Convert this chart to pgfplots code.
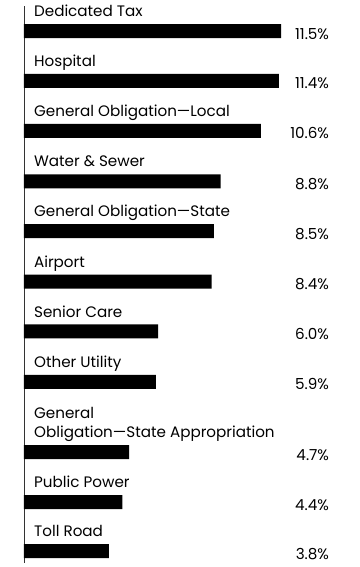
\documentclass[border=0pt]{standalone}
\usepackage{pgfplots}
\pgfplotsset{compat=1.18}
\usepackage{fontspec}
\setmainfont{Poppins}
\begin{document}
\fontsize{15.2}{19}\selectfont
\begin{tikzpicture}[x=1pt,y=1pt]
\path (0,0) rectangle (360,567);
\begin{axis}[at={(24pt,4pt)}, anchor=south west, scale only axis,
  width=336pt, height=558pt, xmin=0, xmax=15, ymin=5, ymax=563,
  y dir=reverse, axis x line=none, axis y line*=left,
  ytick=\empty, xtick=\empty, xbar, bar width=14, bar shift=0pt,
  clip=false, axis line style={line width=0.9pt, black!80},
  every node/.style={font=\fontsize{15.2}{19}\selectfont, inner sep=0pt}]
\addplot[fill=black, draw=none] coordinates {
 (11.5,30) (11.4,80) (10.6,130) (8.8,180.5) (8.5,230.5) (8.4,281)
 (6.0,331) (5.9,381.5) (4.7,452) (4.4,502) (3.8,551)};
\node[anchor=base west] at (axis cs:0.22,15.5) {Dedicated Tax};
\node[anchor=base west] at (axis cs:0.22,65.5) {Hospital};
\node[anchor=base west] at (axis cs:0.22,115.5) {General Obligation—Local};
\node[anchor=base west] at (axis cs:0.22,166) {Water \& Sewer};
\node[anchor=base west] at (axis cs:0.22,216) {General Obligation—State};
\node[anchor=base west] at (axis cs:0.22,266.5) {Airport};
\node[anchor=base west] at (axis cs:0.22,316.5) {Senior Care};
\node[anchor=base west] at (axis cs:0.22,367) {Other Utility};
\node[anchor=base west] at (axis cs:0.22,418) {General};
\node[anchor=base west] at (axis cs:0.22,437) {Obligation—State Appropriation};
\node[anchor=base west] at (axis cs:0.22,487.5) {Public Power};
\node[anchor=base west] at (axis cs:0.22,536.5) {Toll Road};
\node[anchor=base east] at (axis cs:13.88,38) {11.5\%};
\node[anchor=base east] at (axis cs:13.88,88) {11.4\%};
\node[anchor=base east] at (axis cs:13.88,138) {10.6\%};
\node[anchor=base east] at (axis cs:13.88,188.5) {8.8\%};
\node[anchor=base east] at (axis cs:13.88,238.5) {8.5\%};
\node[anchor=base east] at (axis cs:13.88,289) {8.4\%};
\node[anchor=base east] at (axis cs:13.88,339) {6.0\%};
\node[anchor=base east] at (axis cs:13.88,389.5) {5.9\%};
\node[anchor=base east] at (axis cs:13.88,460) {4.7\%};
\node[anchor=base east] at (axis cs:13.88,510) {4.4\%};
\node[anchor=base east] at (axis cs:13.88,559) {3.8\%};
\end{axis}
\end{tikzpicture}
\end{document}
